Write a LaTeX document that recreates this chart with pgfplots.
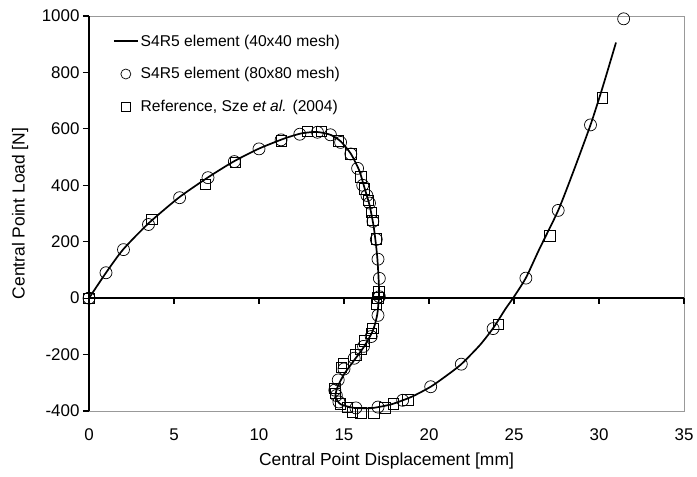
\documentclass[border=0pt]{standalone}
\usepackage{pgfplots}
\pgfplotsset{compat=1.18}
\usepackage{fontspec}
\setmainfont{Liberation Sans}

% 40x40 mesh, solid line
\pgfplotstableread{
x y
0 0
1.0 90
2.0 172
3.5 265
5.3 357
7.0 428
8.5 484
10.0 530
11.5 566
12.5 584
13.4 589
14.2 579
14.8 556
15.4 512
15.9 452
16.2 392
16.5 330
16.75 252
16.95 150
17.05 50
17.05 0
16.95 -60
16.7 -115
16.2 -170
15.6 -220
15.0 -270
14.6 -318
14.5 -350
14.8 -376
15.6 -389
16.6 -390
17.8 -376
19.0 -349
20.1 -314
21.0 -276
21.9 -234
23.0 -166
23.8 -104
24.5 -38
25.0 5
25.7 72
26.5 175
27.6 311
28.5 450
29.5 614
30.2 745
31.0 906
}\meshA

% 80x80 mesh, circles
\pgfplotstableread{
x y
0 0
1.0 90
2.03 172
3.5 261
5.33 356
7.0 427
8.55 484
10.0 529
11.3 561
12.4 581
13.44 588
14.2 579
14.8 552
15.4 511
15.8 460
16.1 400
16.35 364
16.5 337
16.7 272
16.9 208
17.0 138
17.08 70
17.08 5
17.0 -61
16.6 -136
16.15 -171
15.6 -213
15.0 -251
14.66 -290
14.46 -326
14.55 -345
14.7 -368
15.7 -389
17.0 -386
18.45 -362
20.1 -314
21.9 -234
23.77 -108
25.7 71
27.6 311
29.5 614
31.45 990
}\meshB

% Sze et al. (2004), squares
\pgfplotstableread{
x y
0 0
3.7 279
6.85 404
8.6 481
11.33 558
12.85 592
13.68 592
14.66 558
15.4 511
16.0 430
16.2 388
16.43 346
16.6 305
16.7 275
16.9 210
17.05 25
16.98 1
16.9 -23
16.7 -106
16.6 -124
16.2 -151
16.0 -181
15.7 -201
14.97 -231
14.86 -246
14.46 -320
14.5 -338
14.8 -374
15.2 -386
15.5 -404
16.0 -407
16.75 -407
17.4 -389
17.9 -374
18.75 -360
24.07 -92
27.1 221
30.2 710
}\sze

\begin{document}
\begin{tikzpicture}
\begin{axis}[
  scale only axis, width=595bp, height=395bp,
  xmin=0, xmax=35, ymin=-400, ymax=1000,
  xtick={0,5,...,35}, ytick={-400,-200,...,1000},
  axis line style={draw=black!40, line width=0.8bp},
  x tick style={draw=none},
  y tick style={black, line width=1.2bp},
  tick align=outside, major tick length=6bp,
  ytick pos=left, xtick pos=bottom,
  /pgf/number format/assume math mode=true,
  /pgf/number format/1000 sep={},
  ticklabel style={font=\fontsize{17}{20}\selectfont},
  xticklabel style={yshift=-8bp},
  xlabel={Central Point Displacement [mm]},
  ylabel={Central Point Load [N]},
  every axis x label/.style={at={(rel axis cs:0.5,0)}, yshift=-50bp, anchor=center,
    font=\fontsize{17.5}{21}\selectfont},
  every axis y label/.style={at={(rel axis cs:0,0.5)}, xshift=-69bp, rotate=90, anchor=center,
    font=\fontsize{17.5}{21}\selectfont},
  legend cell align=left,
  legend style={at={(axis description cs:0.04,0.958)}, anchor=north west,
    draw=none, fill=none, inner sep=0pt, row sep=16bp,
    font=\fontsize{15.7}{18}\selectfont},
  clip=false,
]
\coordinate (bl) at (rel axis cs:0,0);
\coordinate (tr) at (rel axis cs:1,1);

\addplot[black, line width=1.7bp, smooth, tension=0.4,
  legend image code/.code={\draw[black, line width=1.7bp] (0bp,0bp) -- (24bp,0bp);}]
  table {\meshA};
\addlegendentry{S4R5 element (40x40 mesh)}

\addplot[only marks, mark=o, mark size=6bp, black, line width=0.7bp,
  legend image code/.code={\draw[black, line width=0.7bp] (12bp,0bp) circle (5bp);}]
  table {\meshB};
\addlegendentry{S4R5 element (80x80 mesh)}

\addplot[only marks, mark=square, mark size=5.2bp, black, line width=0.7bp,
  legend image code/.code={\draw[black, line width=0.7bp] (7.5bp,-4.5bp) rectangle (16.5bp,4.5bp);}]
  table {\sze};
\addlegendentry{Reference, Sze \textit{et al.} (2004)}

% black axis lines: left and at zero load
\draw[black, line width=1.6bp] (axis cs:0,-400) -- (axis cs:0,1000);
\draw[black, line width=1.6bp] (axis cs:0,0) -- (axis cs:35,0);
\pgfplotsinvokeforeach{0,5,10,15,20,25,30,35}{
  \draw[black, line width=1.2bp] (axis cs:#1,0) -- ++(0bp,-6bp);
}
\end{axis}
\pgfresetboundingbox
\path ([shift={(-89bp,-66bp)}]bl) rectangle ([shift={(13bp,16bp)}]tr);
\end{tikzpicture}
\end{document}
